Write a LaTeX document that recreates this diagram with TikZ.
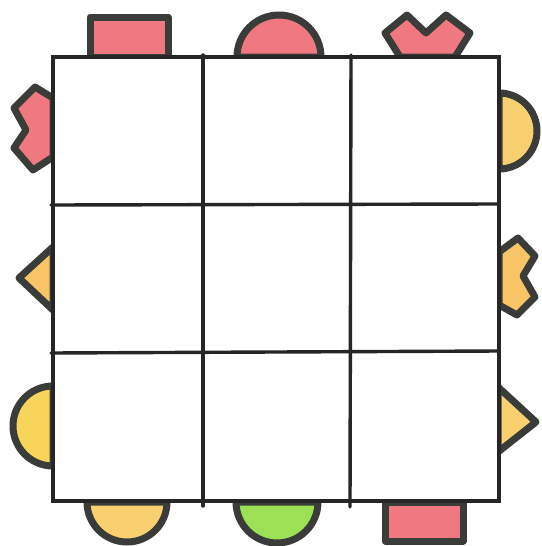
\documentclass[tikz,border=0pt]{standalone}
\begin{document}
\begin{tikzpicture}[x=1pt,y=1pt,
  shapeline/.style={draw=outl,line width=7pt,line join=round},
  gridline/.style={draw=gridc,line width=3.4pt,line cap=round}]
\definecolor{outl}{HTML}{3A3C3A}
\definecolor{gridc}{HTML}{262626}
\definecolor{pinkf}{HTML}{F07880}
\definecolor{orangef}{HTML}{F9C466}
\definecolor{yellowf}{HTML}{F8D45A}
\definecolor{lyellowf}{HTML}{F8D070}
\definecolor{greenf}{HTML}{9BE055}
\useasboundingbox (0,0) rectangle (541,-546);
\fill[white] (0,0) rectangle (541,-546);
% top shapes
\draw[shapeline,fill=pinkf] (90,-17) rectangle (168,-57);
\draw[shapeline,fill=pinkf] (237,-57) arc[start angle=180,end angle=0,radius=42] -- cycle;
\draw[shapeline,fill=pinkf] (400,-57) -- (385,-33) -- (407,-15) -- (426,-33) -- (446,-15) -- (470,-33) -- (455,-57) -- cycle;
% left shapes
\draw[shapeline,fill=pinkf] (53,-98) -- (35,-87) -- (14,-108) -- (26,-130) -- (14,-148) -- (33,-170) -- (53,-157) -- cycle;
\draw[shapeline,fill=orangef] (53,-247) -- (19,-278) -- (53,-310) -- cycle;
\draw[shapeline,fill=yellowf] (53,-386) arc[start angle=90,end angle=270,radius=40] -- cycle;
% right shapes
\draw[shapeline,fill=lyellowf] (499,-93) arc[start angle=90,end angle=-90,radius=38] -- cycle;
\draw[shapeline,fill=orangef] (499,-252) -- (518,-238) -- (535,-256) -- (523,-276) -- (535,-297) -- (517,-315) -- (499,-305) -- cycle;
\draw[shapeline,fill=lyellowf] (498,-387) -- (536,-422) -- (498,-452) -- cycle;
% bottom shapes
\draw[shapeline,fill=lyellowf] (87,-502) arc[start angle=180,end angle=360,radius=40] -- cycle;
\draw[shapeline,fill=greenf] (236,-502) arc[start angle=180,end angle=360,radius=41] -- cycle;
\draw[shapeline,fill=pinkf] (385,-502) rectangle (463,-541);
% grid
\coordinate (tl) at (53,-57);
\coordinate (br) at (499,-501);
\fill[white] (tl) rectangle (br);
\draw[gridline] (tl) rectangle (br);
\draw[gridline] (203,-55) -- (203,-506);
\draw[gridline] (351,-55) -- (350,-507);
\draw[gridline] (51,-205) -- (499,-204);
\draw[gridline] (51,-353) -- (499,-351);
\end{tikzpicture}
\end{document}
